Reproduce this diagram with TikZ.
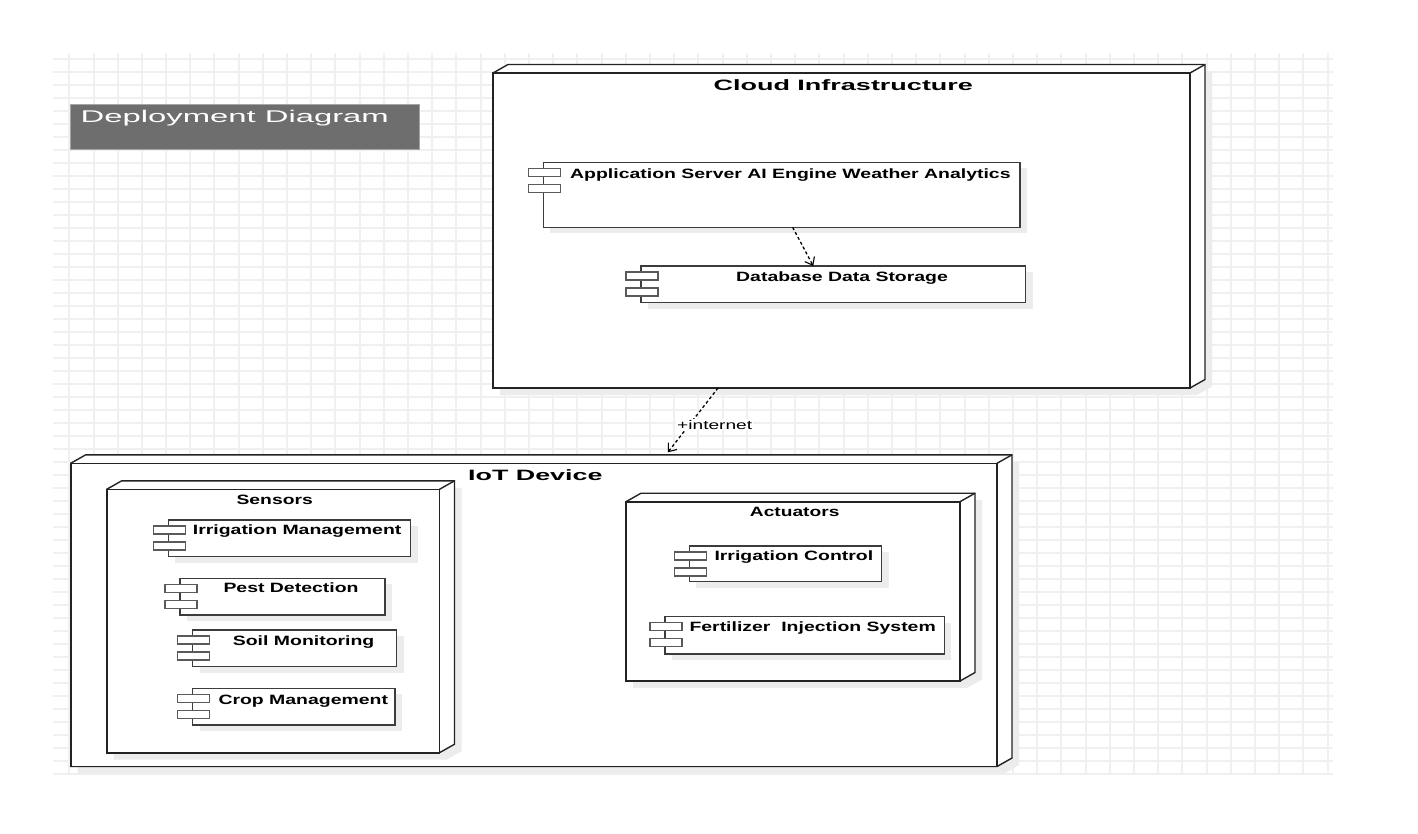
\documentclass[tikz,border=0pt]{standalone}
\usepackage{fontspec}
\setmainfont{Liberation Sans}
\usetikzlibrary{arrows.meta}
\definecolor{gridc}{RGB}{240,240,240}
\definecolor{shadc}{RGB}{236,236,236}
\definecolor{titlefill}{RGB}{110,110,110}
\definecolor{titleline}{RGB}{165,165,165}
\definecolor{edgec}{RGB}{35,35,35}
\definecolor{compc}{RGB}{60,60,60}
\definecolor{iconc}{RGB}{90,90,90}
\newcommand\sx[2]{\scalebox{#1}[1]{#2}}
% 3D deployment node: name, x1, y1, x2, y2 of the front face
\newcommand\dnode[5]{%
  \fill[shadc] (#2+7,#5+7) -- (#2+7,#3+7) -- (#2+22,#3-1.5) -- (#4+22,#3-1.5) -- (#4+22,#5-1.5) -- (#4+7,#5+7) -- cycle;
  \filldraw[fill=white, draw=edgec, line width=1.4pt, line join=miter] (#2,#5) -- (#2,#3) -- (#2+15,#3-8.5) -- (#4+15,#3-8.5) -- (#4+15,#5-8.5) -- (#4,#5) -- cycle;
  \draw[edgec, line width=1.4pt] (#4,#3) -- (#4+15,#3-8.5);
  \node[frontface, minimum width={#4-#2}, minimum height={#5-#3}] (#1) at (#2,#3) {};
}
% component box: name, x1, y1, x2, y2
\newcommand\comp[5]{%
  \fill[shadc] (#2+7,#3+6) rectangle (#4+7,#5+6);
  \node[compbox, minimum width={#4-#2}, minimum height={#5-#3}] (#1) at (#2,#3) {};
  \draw[iconbox] (#2-15,#3+6) rectangle (#2+17,#3+14);
  \draw[iconbox] (#2-15,#3+22) rectangle (#2+17,#3+30);
}
\tikzset{
  frontface/.style={draw=edgec, line width=1.6pt, fill=white, inner sep=0pt, outer sep=0pt, anchor=north west},
  compbox/.style={draw=compc, line width=1.3pt, fill=white, inner sep=0pt, outer sep=0pt, anchor=north west},
  iconbox/.style={draw=iconc, fill=white, line width=1.2pt},
  gridline/.style={draw=gridc, line width=1.6pt},
  ctext/.style={anchor=base west, inner sep=0pt, text=black, font=\fontsize{13.5}{16}\selectfont\bfseries},
  ntext/.style={anchor=base, inner sep=0pt, text=black, font=\fontsize{13.5}{16}\selectfont\bfseries},
  btext/.style={anchor=base west, inner sep=0pt, text=black, font=\fontsize{15}{18}\selectfont\bfseries},
  dep/.style={black, line width=1.3pt, dash pattern=on 3pt off 2.5pt, -{Straight Barb[length=7pt,width=11pt,line width=1.1pt]}}
}
\begin{document}
\begin{tikzpicture}[x=1pt,y=-1pt]
\useasboundingbox (0,0) rectangle (1418,833);
\fill[white] (0,0) rectangle (1418,833);
% grid
\foreach \i in {0,...,52} \draw[gridline] ({round(69.3+24.2*\i)},53) -- ({round(69.3+24.2*\i)},775);
\foreach \j in {0,...,55} \draw[gridline] (53,{round(58.5+13*\j)}) -- (1333,{round(58.5+13*\j)});

% title
\node[fill=titlefill, draw=titleline, line width=1pt, minimum width=349, minimum height=45, inner sep=0pt, outer sep=0pt, anchor=north west] (titlebox) at (70,104) {};
\node[anchor=base west, inner sep=0pt, text=white, font=\fontsize{17}{20}\selectfont] (title) at (80.5,122.3) {\sx{1.93}{Deployment Diagram}};

% cloud infrastructure
\dnode{cloud}{493}{73}{1190}{388}
\comp{app}{543.3}{162.3}{1020}{227.3}
\comp{db}{641}{266}{1025.5}{302.5}

% IoT device
\dnode{iot}{70.7}{463.3}{997}{766.5}
\dnode{sensors}{106.7}{489.3}{439.5}{752.7}
\dnode{actuators}{626}{501.7}{960}{681}
\comp{irrm}{168.3}{520}{410.7}{556.7}
\comp{pest}{180}{578.3}{385}{615}
\comp{soil}{192.7}{630}{396.7}{666.7}
\comp{crop}{192.7}{688.3}{395}{725}
\comp{irrc}{689.3}{546}{881.7}{581.7}
\comp{fert}{665}{616.7}{944.3}{654}

% connectors
\draw[dep] ([xshift=11pt]app.south) -- ([xshift=-20pt]db.north);
\draw[dep] ([xshift=-123.5pt]cloud.south) -- ([xshift=134pt,yshift=11pt]iot.north);
\node[anchor=base west, inner sep=1pt, fill=white, text=black, font=\fontsize{12.5}{15}\selectfont] (inetlabel) at (676,429.3) {\sx{1.53}{+internet}};

% labels
\node[btext] (cloudt) at (713.3,90.7) {\sx{1.8}{Cloud Infrastructure}};
\node[btext] (iott) at (468,480) {\sx{1.79}{IoT Device}};
\node[ntext] (sensorst) at (274.7,504) {\sx{1.43}{Sensors}};
\node[ntext] (actuatorst) at (794.7,516) {\sx{1.42}{Actuators}};
\node[ctext] (appt) at (570,178) {\sx{1.44}{Application Server AI Engine Weather Analytics}};
\node[ctext] (dbt) at (736,281) {\sx{1.44}{Database Data Storage}};
\node[ctext] (irrmt) at (192.7,534.3) {\sx{1.44}{Irrigation Management}};
\node[ctext] (pestt) at (223.3,592.5) {\sx{1.44}{Pest Detection}};
\node[ctext] (soilt) at (232.7,645.3) {\sx{1.44}{Soil Monitoring}};
\node[ctext] (cropt) at (218.3,704) {\sx{1.44}{Crop Management}};
\node[ctext] (irrct) at (714.3,560.7) {\sx{1.44}{Irrigation Control}};
\node[ctext] (fertt) at (689.3,631.7) {\sx{1.44}{Fertilizer\ \ Injection System}};
\end{tikzpicture}
\end{document}
